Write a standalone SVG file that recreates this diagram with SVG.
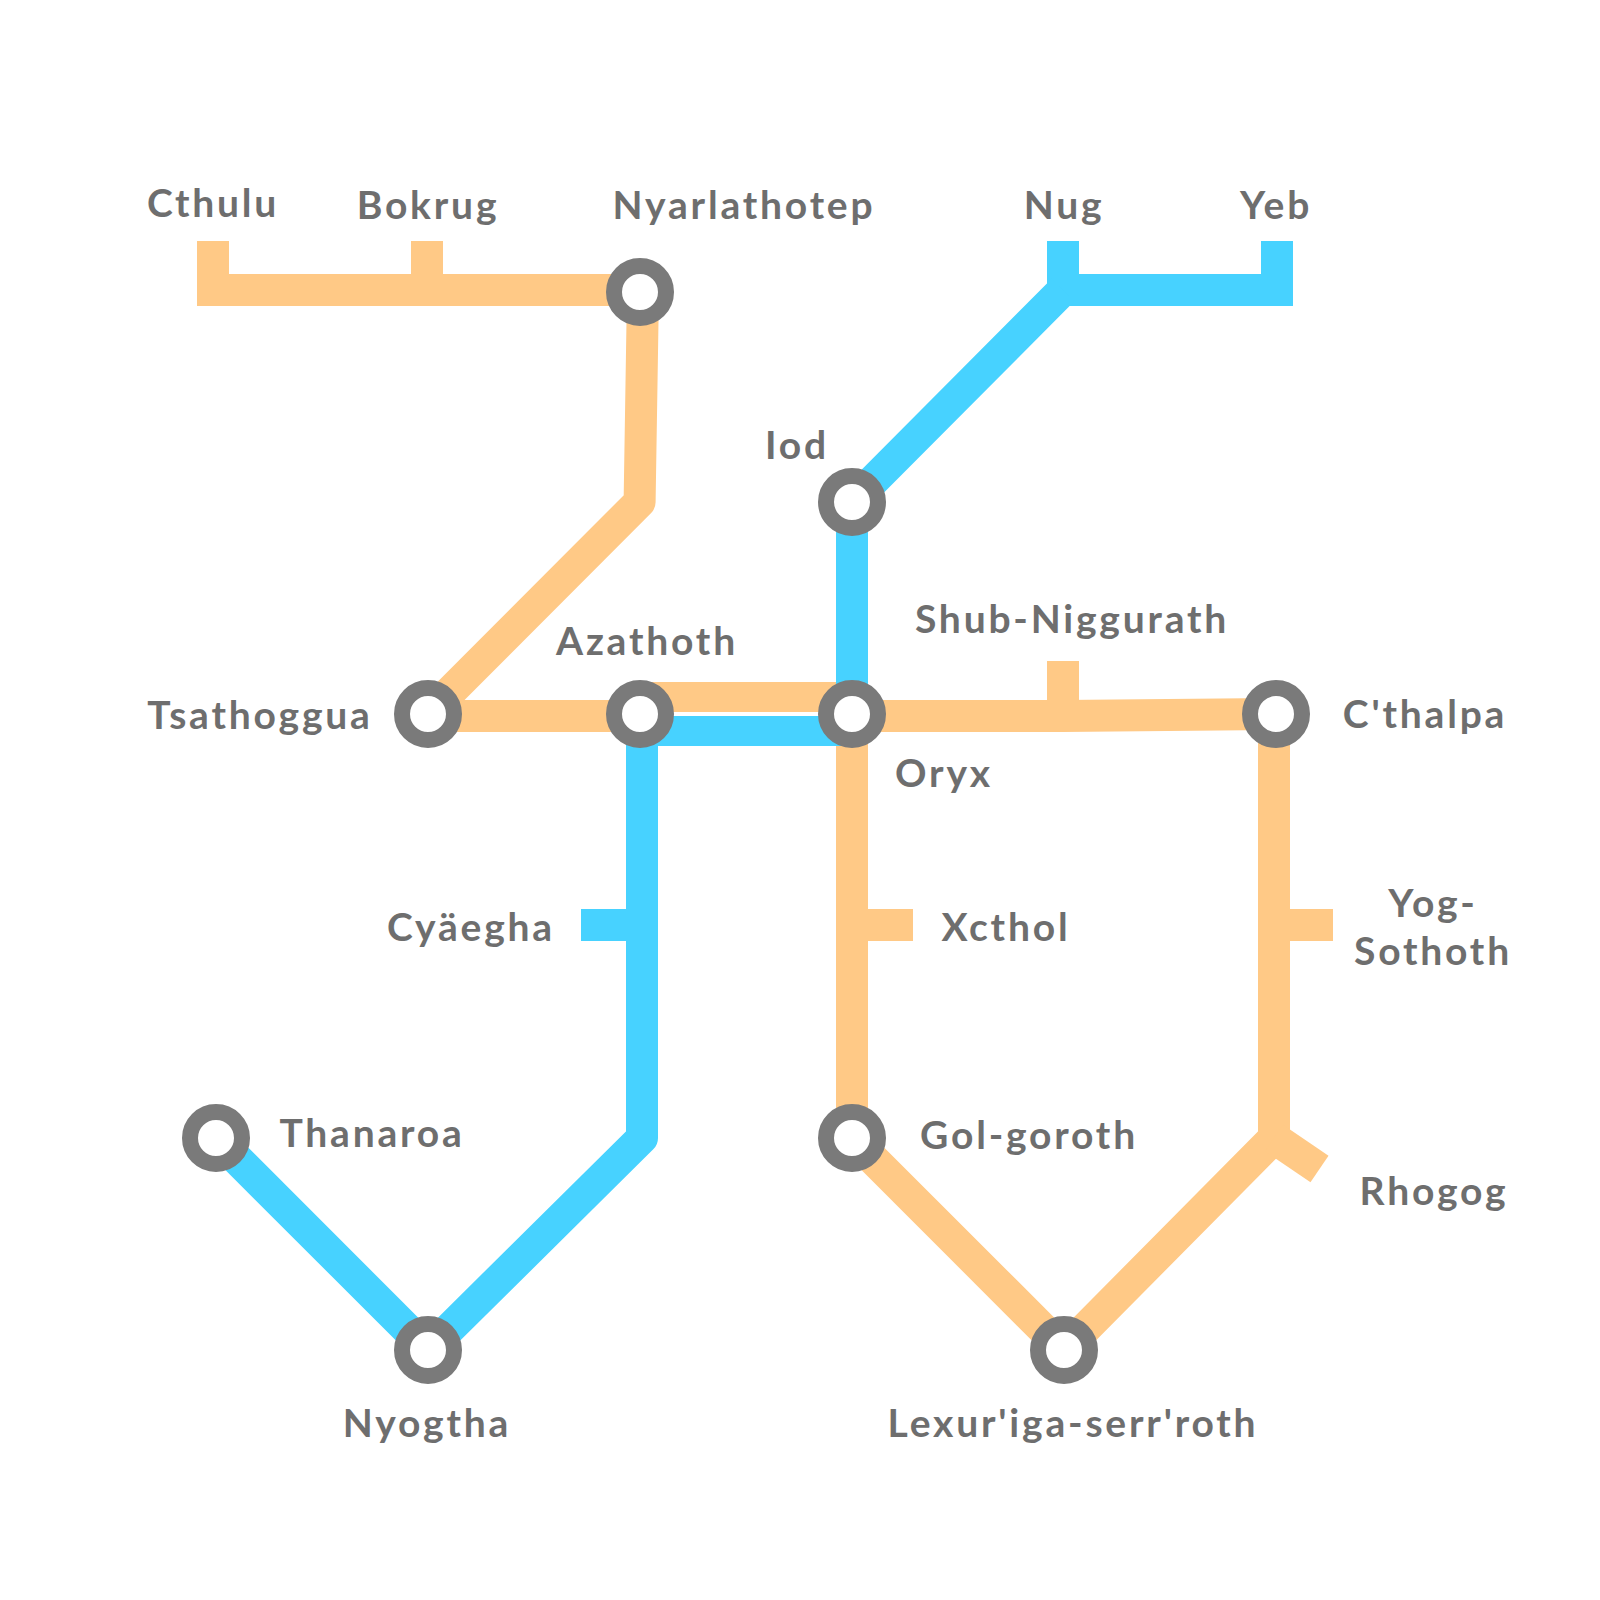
<svg xmlns="http://www.w3.org/2000/svg" width="1600" height="1600" viewBox="0 0 1600 1600">
<style>
.o,.b{fill:none;stroke-width:32;stroke-linejoin:round}
.o{stroke:#ffc986}.b{stroke:#47d2ff}
.m{stroke-linejoin:miter}
.t{stroke-width:30}
.n{fill:#fff;stroke:#7a7a7a;stroke-width:16}
text{font-family:"Lato","Open Sans","Liberation Sans",sans-serif;font-weight:700;font-size:39px;fill:#6e6e6e;letter-spacing:2.8px;text-anchor:middle}
</style>
<rect width="1600" height="1600" fill="#fff"/>
<g id="connectors">
<path class="o m" d="M213 241V290H640"/>
<path class="o" d="M427 241V290"/>
<path class="o" d="M643 290L639.6 502L428 714"/>
<path class="o" d="M428 716H640"/>
<path class="o t" d="M640 697H852"/>
<path class="o" d="M852 716H1063L1276 714"/>
<path class="o" d="M1063 661V716"/>
<path class="o" d="M852 714V1138L1064 1350"/>
<path class="o" d="M852 925H913"/>
<path class="o" d="M1274 714V1138L1064 1350"/>
<path class="o" d="M1274 925H1333"/>
<path class="o" d="M1274 1138L1319.5 1169"/>
<path class="b m" d="M1063 241V290H1277V241"/>
<path class="b" d="M1063 290L852 502V714"/>
<path class="b t" d="M852 731H642"/>
<path class="b" d="M642 716V1138L428 1350L216 1138"/>
<path class="b" d="M581 925H642"/>
</g>
<g id="n-nyarlathotep"><circle class="n" cx="640" cy="292" r="26"/><text x="744" y="219">Nyarlathotep</text></g>
<g id="n-tsathoggua"><circle class="n" cx="428" cy="714" r="26"/><text x="260" y="729">Tsathoggua</text></g>
<g id="n-azathoth"><circle class="n" cx="640" cy="714" r="26"/><text x="647" y="655">Azathoth</text></g>
<g id="n-oryx"><circle class="n" cx="852" cy="714" r="26"/><text x="944" y="787">Oryx</text></g>
<g id="n-cthalpa"><circle class="n" cx="1276" cy="714" r="26"/><text x="1425" y="728">C'thalpa</text></g>
<g id="n-iod"><circle class="n" cx="852" cy="502" r="26"/><text x="797" y="459">Iod</text></g>
<g id="n-thanaroa"><circle class="n" cx="216" cy="1138" r="26"/><text x="372" y="1147">Thanaroa</text></g>
<g id="n-nyogtha"><circle class="n" cx="428" cy="1350" r="26"/><text x="427" y="1437">Nyogtha</text></g>
<g id="n-golgoroth"><circle class="n" cx="852" cy="1138" r="26"/><text x="1029" y="1149">Gol-goroth</text></g>
<g id="n-lexur"><circle class="n" cx="1064" cy="1350" r="26"/><text x="1073" y="1437">Lexur'iga-serr'roth</text></g>
<g id="n-cthulu"><text x="213" y="217">Cthulu</text></g>
<g id="n-bokrug"><text x="428" y="219">Bokrug</text></g>
<g id="n-nug"><text x="1064" y="219">Nug</text></g>
<g id="n-yeb"><text x="1276" y="219">Yeb</text></g>
<g id="n-shub"><text x="1072" y="633">Shub-Niggurath</text></g>
<g id="n-cyaegha"><text x="471" y="941">Cyäegha</text></g>
<g id="n-xcthol"><text x="1006" y="941">Xcthol</text></g>
<g id="n-yog"><text x="1433" y="917">Yog-</text><text x="1433" y="965">Sothoth</text></g>
<g id="n-rhogog"><text x="1434" y="1205">Rhogog</text></g>
</svg>
